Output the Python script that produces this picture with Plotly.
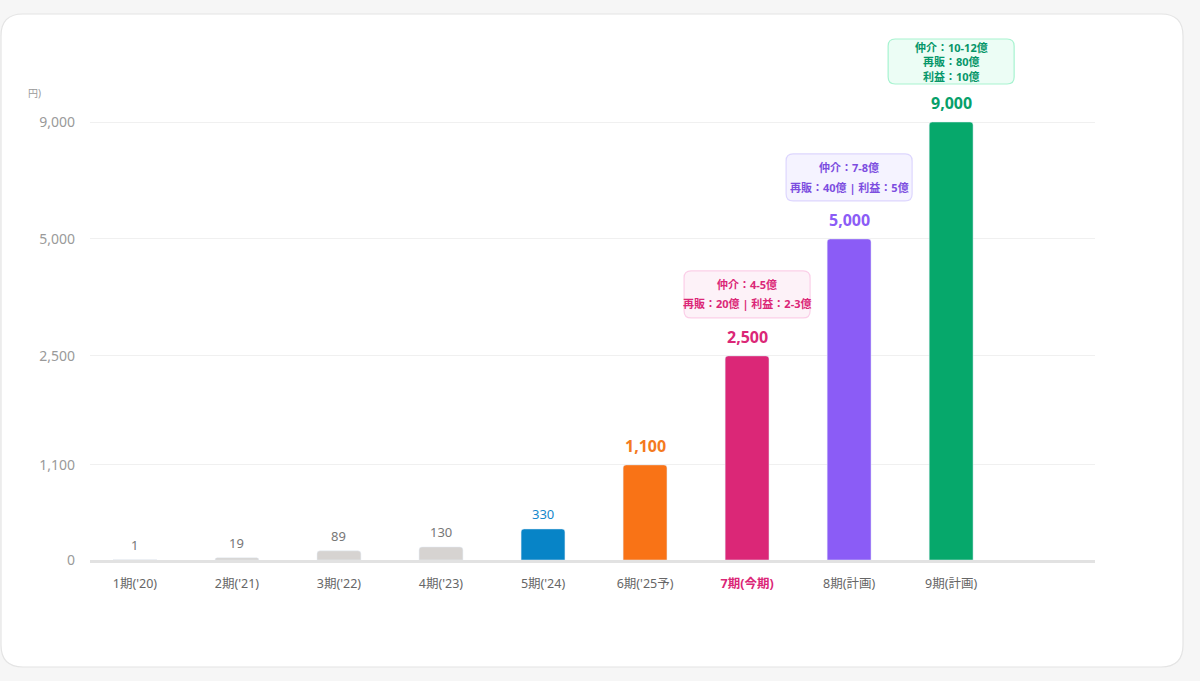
import numpy as np
import plotly.graph_objects as go

# data
periods = ["1期('20)", "2期('21)", "3期('22)", "4期('23)", "5期('24)",
           "6期('25予)", "7期(今期)", "8期(計画)", "9期(計画)"]
revenue = [1, 19, 89, 130, 330, 1100, 2500, 5000, 9000]
tick_values = [0, 1100, 2500, 5000, 9000]
tick_labels = ["0", "1,100", "2,500", "5,000", "9,000"]
current_period = 6
note_periods = [6, 7, 8]
note_lines = [
    ["仲介：4-5億", "再販：20億 | 利益：2-3億"],
    ["仲介：7-8億", "再販：40億 | 利益：5億"],
    ["仲介：10-12億", "再販：80億", "利益：10億"],
]

# styles
bar_colors = ["#d6d3d1", "#d6d3d1", "#d6d3d1", "#d6d3d1", "#0784c7",
              "#f97316", "#db2777", "#8b5cf6", "#06a86b"]
label_colors = ["#777777", "#777777", "#777777", "#777777", "#1688cc",
                "#f47a20", "#db2777", "#8b5cf6", "#06a06a"]
note_fill = ["#fdf2f8", "#f5f3ff", "#ecfdf5"]
note_border = ["#fbcfe8", "#ddd6fe", "#a7f3d0"]
note_text = ["#db2777", "#7c4ddf", "#059669"]
note_height = [47, 47, 45]
note_gap = [19, 20, 14.5]

FONT = "Noto Sans, Noto Sans CJK JP, sans-serif"

# broken scale: compressed low end, linear pieces above
SEG_VALS = [0, 2500, 5000, 9000]
SEG_POS = [0, 0.466, 0.733, 1.0]


def y_scale(v):
    v = np.asarray(v, dtype=float)
    low = SEG_POS[1] * (np.clip(v, 0, None) / SEG_VALS[1]) ** 0.93
    return np.where(v <= SEG_VALS[1], low, np.interp(v, SEG_VALS, SEG_POS))


def rounded_rect(x0, y0, x1, y1, r):
    return (f"M{x0 + r},{y0} L{x1 - r},{y0} Q{x1},{y0} {x1},{y0 + r} "
            f"L{x1},{y1 - r} Q{x1},{y1} {x1 - r},{y1} L{x0 + r},{y1} "
            f"Q{x0},{y1} {x0},{y1 - r} L{x0},{y0 + r} Q{x0},{y0} {x0 + r},{y0} Z")


ML, MR, MT, MB = 90, 105, 36, 121
W, H = 1200, 681
plot_h = H - MT - MB
px_per_unit = 438

x = np.arange(len(periods))
y = y_scale(revenue)

fig = go.Figure()
fig.add_trace(go.Bar(x=x, y=y, width=0.43, marker=dict(color=bar_colors, cornerradius=3),
                     hoverinfo="skip"))

shapes = []
# the white card
shapes.append(dict(type="path", xref="paper", yref="paper", xsizemode="pixel", ysizemode="pixel",
                   xanchor=0, yanchor=0, layer="below",
                   path=rounded_rect(1 - ML, -(667 - (H - MB)), 1183 - ML, (H - MB) - 14, 22),
                   fillcolor="white", line=dict(color="#e4e4e4", width=1.2)))

annotations = []
for i, v in enumerate(revenue):
    big = v >= 1000
    txt = f"{v:,}"
    annotations.append(dict(x=i, y=float(y[i]), text=f"<b>{txt}</b>" if big else txt,
                            showarrow=False, yanchor="middle", yshift=19 if big else 15,
                            font=dict(size=16 if big else 13, color=label_colors[i], family=FONT)))

for k, idx in enumerate(note_periods):
    top_y = float(y[idx])
    b0 = 38
    b1 = b0 + note_height[k]
    shapes.append(dict(type="path", xref="x", yref="y", xsizemode="pixel", ysizemode="pixel",
                       xanchor=idx, yanchor=top_y, layer="above",
                       path=rounded_rect(-63, b0, 63, b1, 7),
                       fillcolor=note_fill[k], line=dict(color=note_border[k], width=1.2)))
    lines = note_lines[k]
    mid = (b0 + b1) / 2
    n = len(lines)
    for j, line in enumerate(lines):
        off = mid + ((n - 1) / 2 - j) * note_gap[k]
        annotations.append(dict(x=idx, y=top_y, text=f"<b>{line}</b>", showarrow=False,
                                yanchor="middle", yshift=off,
                                font=dict(size=11, color=note_text[k], family=FONT)))

# unit label, cut off in the original
annotations.append(dict(xref="paper", yref="paper", x=(26 - ML) / (W - ML - MR),
                        y=(H - MB - 93) / plot_h, xanchor="left", yanchor="middle",
                        text="円)", showarrow=False, font=dict(size=10, color="#999999", family=FONT)))

ticktext = [f"<b><span style='color:#db2777'>{p}</span></b>" if i == current_period else p
            for i, p in enumerate(periods)]

fig.update_layout(
    width=W, height=H,
    margin=dict(l=ML, r=MR, t=MT, b=MB),
    paper_bgcolor="#f6f6f6", plot_bgcolor="rgba(0,0,0,0)",
    font=dict(family=FONT, color="#666666"),
    showlegend=False, bargap=0.57,
    shapes=shapes, annotations=annotations,
    xaxis=dict(range=[-0.44, 9.41], tickmode="array", tickvals=x, ticktext=ticktext,
               tickfont=dict(size=12.5, color="#666666"), showgrid=False, zeroline=False,
               showline=True, linecolor="#e2e2e2", linewidth=3, ticks="", ticklabelstandoff=10,
               fixedrange=True),
    yaxis=dict(range=[0, plot_h / px_per_unit], tickmode="array",
               tickvals=y_scale(tick_values), ticktext=tick_labels,
               tickfont=dict(size=14, color="#9a9a9a"), showgrid=True, gridcolor="#f0f0f0",
               gridwidth=1, zeroline=False, ticks="", ticklabelstandoff=14, fixedrange=True),
)

# drop the default page margin so the figure sits at the window origin
fig.write_html("out.html", config={"displayModeBar": False},
               post_script="document.body.style.margin='0';")
